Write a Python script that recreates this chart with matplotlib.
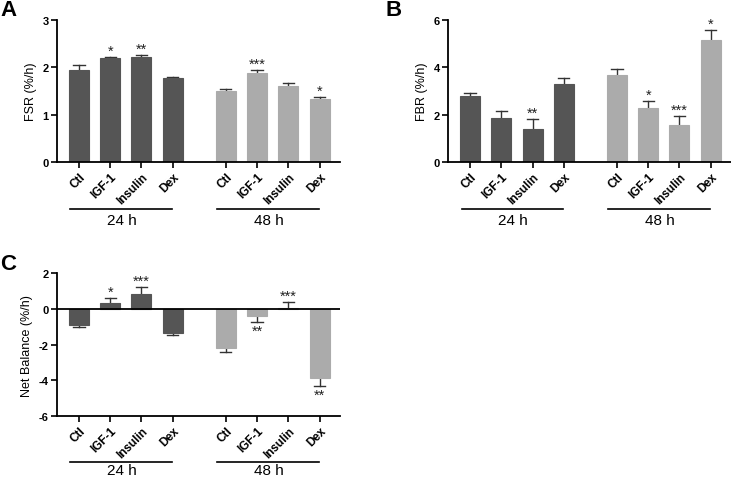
import matplotlib
matplotlib.use("Agg")
import matplotlib.pyplot as plt
import numpy as np

plt.rcParams['font.family'] = ['Liberation Sans', 'DejaVu Sans']

categories = ["Ctl", "IGF-1", "Insulin", "Dex", "Ctl", "IGF-1", "Insulin", "Dex"]
groups = ["24 h", "48 h"]

fsr_mean = [1.94, 2.19, 2.23, 1.77, 1.50, 1.88, 1.61, 1.33]
fsr_err = [0.11, 0.04, 0.04, 0.03, 0.035, 0.06, 0.06, 0.05]
fsr_sig = ["", "*", "**", "", "", "***", "", "*"]

fbr_mean = [2.80, 1.86, 1.39, 3.30, 3.68, 2.27, 1.55, 5.15]
fbr_err = [0.10, 0.28, 0.41, 0.24, 0.26, 0.32, 0.38, 0.44]
fbr_sig = ["", "", "**", "", "", "*", "***", "*"]

nb_mean = [-0.90, 0.32, 0.83, -1.35, -2.20, -0.41, 0.04, -3.85]
nb_err = [0.13, 0.28, 0.39, 0.09, 0.24, 0.30, 0.34, 0.45]
nb_sig = ["", "*", "***", "", "", "**", "***", "**"]

dark = "#555555"
light = "#ababab"
colors = [dark] * 4 + [light] * 4
xpos = np.array([0, 1, 2, 3, 4.7, 5.7, 6.7, 7.7])

fig = plt.figure(figsize=(7.31, 4.81), dpi=100)


def panel(rect, means, errs, sigs, ylim, yticks, ylabel, letter, letter_xy,
          zero_line=False, gl_y=-0.33, gt_y=-0.41):
    ax = fig.add_axes(rect)
    means = np.array(means)
    errs = np.array(errs)
    ax.bar(xpos, means, width=0.64, color=colors, edgecolor=colors, linewidth=0.8, zorder=2)
    for x, m, e in zip(xpos, means, errs):
        end = m + e if m >= 0 else m - e
        ax.plot([x, x], [m, end], color="#333333", lw=1.0, zorder=1)
        ax.plot([x - 0.18, x + 0.18], [end, end], color="#333333", lw=1.0, zorder=1)
    rng = ylim[1] - ylim[0]
    for x, m, e, s in zip(xpos, means, errs, sigs):
        if not s:
            continue
        if m >= 0:
            ax.text(x, m + e - rng * 0.005, s, ha="center", va="bottom", fontsize=10.5, color="#222222")
        else:
            ax.text(x, m - e - rng * 0.015, s, ha="center", va="top", fontsize=10.5, color="#222222")
    ax.set_xlim(-0.7, 8.35)
    ax.set_ylim(*ylim)
    ax.set_yticks(yticks)
    ax.set_yticklabels([str(t) for t in yticks], fontsize=8, fontweight="bold")
    ax.set_xticks(xpos)
    ax.set_xticklabels(categories, rotation=45, ha="right", rotation_mode="anchor",
                       fontsize=8.5, fontweight="bold")
    ax.spines["top"].set_visible(False)
    ax.spines["right"].set_visible(False)
    ax.spines["left"].set_linewidth(1.3)
    ax.spines["bottom"].set_linewidth(1.3)
    ax.tick_params(axis="both", direction="out", length=4, width=1.2, pad=2)
    ax.set_ylabel(ylabel, fontsize=9, labelpad=4)
    if zero_line:
        ax.axhline(0, color="black", lw=1.3, zorder=3)
    trans = ax.get_xaxis_transform()
    for gi, g in enumerate(groups):
        x0 = xpos[gi * 4]
        ax.plot([x0 - 0.27, x0 + 2.97], [gl_y, gl_y], color="black", lw=1.2,
                transform=trans, clip_on=False)
        ax.text(x0 + 1.37, gt_y, g, transform=trans, ha="center", va="center", fontsize=11)
    fig.text(letter_xy[0], letter_xy[1], letter, fontsize=16, fontweight="bold",
             ha="left", va="top")
    return ax


panel([0.078, 0.661, 0.387, 0.295], fsr_mean, fsr_err, fsr_sig, (0, 3), [0, 1, 2, 3],
      "FSR (%/h)", "A", (0.0, 1.0))
panel([0.613, 0.661, 0.387, 0.295], fbr_mean, fbr_err, fbr_sig, (0, 6), [0, 2, 4, 6],
      "FBR (%/h)", "B", (0.527, 1.0))
panel([0.078, 0.133, 0.387, 0.297], nb_mean, nb_err, nb_sig, (-6, 2), [-6, -4, -2, 0, 2],
      "Net Balance (%/h)", "C", (0.0, 0.472), zero_line=True, gl_y=-0.32, gt_y=-0.38)

fig.savefig("out.png", dpi=100)
